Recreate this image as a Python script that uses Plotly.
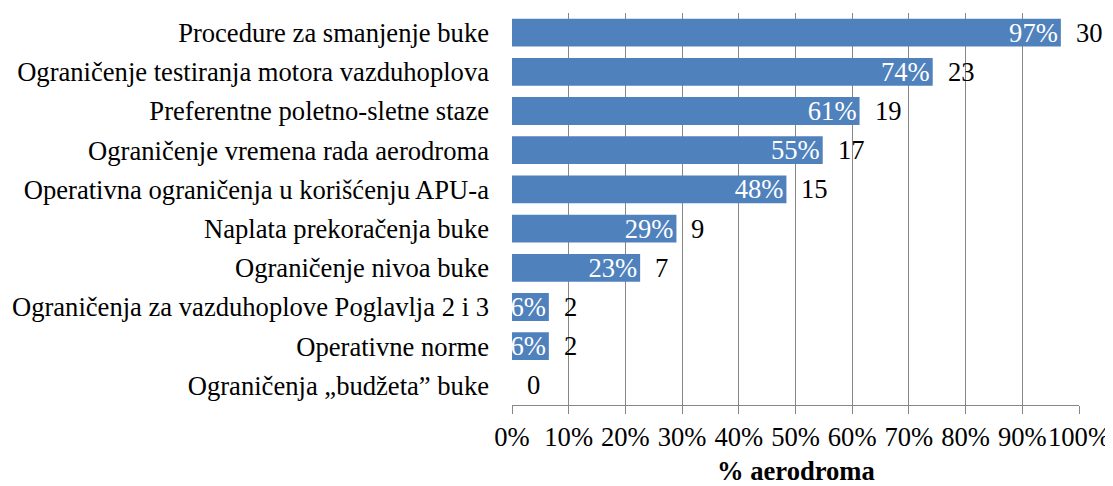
import plotly.graph_objects as go

categories = [
    "Procedure za smanjenje buke",
    "Ograničenje testiranja motora vazduhoplova",
    "Preferentne poletno-sletne staze",
    "Ograničenje vremena rada aerodroma",
    "Operativna ograničenja u korišćenju APU-a",
    "Naplata prekoračenja buke",
    "Ograničenje nivoa buke",
    "Ograničenja za vazduhoplove Poglavlja 2 i 3",
    "Operativne norme",
    "Ograničenja „budžeta” buke",
]
percent = [96.8, 74.2, 61.3, 54.8, 48.4, 29.0, 22.6, 6.5, 6.5, 0.0]
counts = [30, 23, 19, 17, 15, 9, 7, 2, 2, 0]
x_ticks = [0, 10, 20, 30, 40, 50, 60, 70, 80, 90, 100]
x_tick_labels = [f"{t}%" for t in x_ticks]
x_title = "% aerodroma"

FONT = "Liberation Serif, Times New Roman, serif"
BLUE = "#4F81BD"
GRID = "#878787"
FS = 26.6

pct_text = [f"{round(p)}%" if p > 0 else "" for p in percent]

fig = go.Figure()
fig.add_trace(go.Bar(
    x=percent, y=categories, orientation="h",
    marker=dict(color=BLUE, line=dict(width=0)),
    text=pct_text, textposition="inside", insidetextanchor="end",
    constraintext="none",
    textfont=dict(family=FONT, size=FS, color="white"),
    hoverinfo="skip",
))

for c, p, n in zip(categories, percent, counts):
    fig.add_annotation(
        x=p, y=c, xref="x", yref="y", text=str(n), showarrow=False,
        xanchor="left", yanchor="middle", xshift=13,
        font=dict(family=FONT, size=FS, color="black"),
    )

# axis title placed below the tick labels
fig.add_annotation(
    x=0.5, y=0, xref="paper", yref="paper", text=f"<b>{x_title}</b>",
    showarrow=False, xanchor="center", yanchor="middle", yshift=-66,
    font=dict(family=FONT, size=FS, color="black"),
)

# page body has an 8px default margin, so the figure is 8px smaller
fig.update_layout(
    width=1105, height=478,
    margin=dict(l=504, r=34, t=5, b=81, autoexpand=False),
    paper_bgcolor="white", plot_bgcolor="white",
    showlegend=False, bargap=0.29,
    font=dict(family=FONT, size=FS, color="black"),
)
fig.update_xaxes(
    range=[0, 100], tickvals=x_ticks, ticktext=x_tick_labels, tickangle=0,
    showgrid=True, gridcolor=GRID, gridwidth=1.3,
    showline=True, linecolor=GRID, linewidth=1.3,
    ticks="outside", ticklen=8, tickcolor=GRID, tickwidth=1.3,
    tickfont=dict(family=FONT, size=FS, color="black"),
    zeroline=False, automargin=False,
)
fig.update_yaxes(
    autorange="reversed", showgrid=False, ticks="", showline=False,
    ticklabelstandoff=22, automargin=False,
    tickfont=dict(family=FONT, size=FS, color="black"),
)

fig.write_html("out.html")
